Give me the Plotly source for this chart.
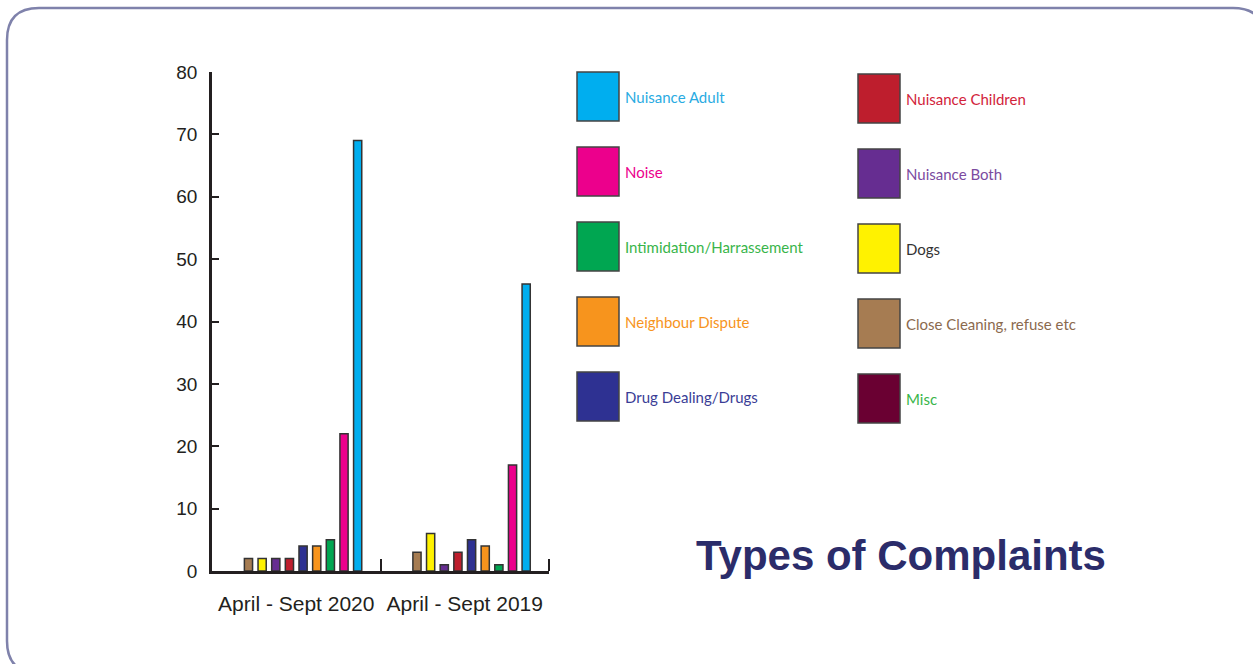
import plotly.graph_objects as go

W, H = 1253, 664
L, R, T, B = 212, 549, 72, 571

periods = ["April - Sept 2020", "April - Sept 2019"]

# bar order within each group (left to right)
bar_names = ["Misc", "Close Cleaning, refuse etc", "Dogs", "Nuisance Both",
             "Nuisance Children", "Drug Dealing/Drugs", "Neighbour Dispute",
             "Intimidation/Harrassement", "Noise", "Nuisance Adult"]
vals_2020 = [0, 2, 2, 2, 2, 4, 4, 5, 22, 69]
vals_2019 = [0, 3, 6, 1, 3, 5, 4, 1, 17, 46]
bar_colors = ["#6a0032", "#a67c52", "#fff200", "#662d91", "#be1e2d",
              "#2e3192", "#f7941d", "#00a651", "#ec008c", "#00aeef"]

yticks = [0, 10, 20, 30, 40, 50, 60, 70, 80]

# legend layout (two columns)
legend_col1 = ["Nuisance Adult", "Noise", "Intimidation/Harrassement",
               "Neighbour Dispute", "Drug Dealing/Drugs"]
legend_col2 = ["Nuisance Children", "Nuisance Both", "Dogs",
               "Close Cleaning, refuse etc", "Misc"]
legend_text_colors = {
    "Nuisance Adult": "#29abe2", "Noise": "#ec008c",
    "Intimidation/Harrassement": "#39b54a", "Neighbour Dispute": "#f7941d",
    "Drug Dealing/Drugs": "#3a3d96", "Nuisance Children": "#d2233a",
    "Nuisance Both": "#7b4ba0", "Dogs": "#333333",
    "Close Cleaning, refuse etc": "#8b6a4e", "Misc": "#39b54a",
}
color_of = dict(zip(bar_names, bar_colors))


def px_x(x):
    return (x - L) / (R - L)


def px_y(y):
    return (B - y) / (B - T)


fig = go.Figure()
for i, name in enumerate(bar_names):
    vals = [vals_2020[i], vals_2019[i]]
    fig.add_trace(go.Bar(
        x=periods, y=vals, name=name,
        marker=dict(color=bar_colors[i],
                    line=dict(color="#333333",
                              width=[1.5 if v > 0 else 0 for v in vals])),
        showlegend=False,
    ))

shapes = []
annotations = []

# rounded border
x0, y0, x1, y1, r = 7, 8, 1265, 673, 32
path = (f"M {px_x(x0+r)},{px_y(y0)} L {px_x(x1-r)},{px_y(y0)} "
        f"Q {px_x(x1)},{px_y(y0)} {px_x(x1)},{px_y(y0+r)} "
        f"L {px_x(x1)},{px_y(y1-r)} Q {px_x(x1)},{px_y(y1)} {px_x(x1-r)},{px_y(y1)} "
        f"L {px_x(x0+r)},{px_y(y1)} Q {px_x(x0)},{px_y(y1)} {px_x(x0)},{px_y(y1-r)} "
        f"L {px_x(x0)},{px_y(y0+r)} Q {px_x(x0)},{px_y(y0)} {px_x(x0+r)},{px_y(y0)} Z")
shapes.append(dict(type="path", xref="paper", yref="paper", path=path,
                   line=dict(color="#7f82ab", width=2.5), layer="below"))

# right-end tick of the x axis
shapes.append(dict(type="line", xref="paper", yref="paper", x0=1, x1=1,
                   y0=0, y1=px_y(B - 12), line=dict(color="#231f20", width=2)))

# legend swatches + labels
for col, names, sx, top0 in [(0, legend_col1, 577, 72), (1, legend_col2, 858, 74)]:
    for j, nm in enumerate(names):
        top = top0 + j * 75
        shapes.append(dict(type="rect", xref="paper", yref="paper",
                           x0=px_x(sx), x1=px_x(sx + 42),
                           y0=px_y(top), y1=px_y(top + 49),
                           fillcolor=color_of[nm],
                           line=dict(color="#444444", width=1.5)))
        annotations.append(dict(xref="paper", yref="paper",
                                x=px_x(sx + 46), y=px_y(top + 25),
                                xanchor="left", yanchor="middle", showarrow=False,
                                text=nm, font=dict(family="Lato, Open Sans, sans-serif",
                                                   size=15, color=legend_text_colors[nm])))

annotations.append(dict(xref="paper", yref="paper", x=px_x(901), y=px_y(555),
                        xanchor="center", yanchor="middle", showarrow=False,
                        text="<b>Types of Complaints</b>",
                        font=dict(family="Liberation Sans, Arial, sans-serif",
                                  size=42, color="#2b2c6a")))

fig.update_layout(
    width=W, height=H,
    margin=dict(l=L, r=W - R, t=T, b=H - B, pad=0),
    paper_bgcolor="white", plot_bgcolor="white",
    barmode="group", bargap=0.19, bargroupgap=0.4,
    shapes=shapes, annotations=annotations,
    font=dict(family="Liberation Sans, Arial, sans-serif", size=18, color="#231f20"),
)
fig.update_xaxes(range=[-0.5, 1.5], showline=True, linecolor="#231f20", linewidth=2.5,
                 ticks="inside", tickson="boundaries", ticklen=12, tickwidth=2,
                 tickcolor="#231f20", showgrid=False, ticklabelstandoff=12,
                 tickfont=dict(size=21))
fig.update_yaxes(range=[0, 80], tickvals=yticks, showline=True,
                 linecolor="#231f20", linewidth=2.5, ticks="inside", ticklen=7,
                 tickwidth=2, tickcolor="#231f20", showgrid=False, zeroline=False,
                 ticklabelstandoff=8, tickfont=dict(size=19))

fig.write_html("out.html")
